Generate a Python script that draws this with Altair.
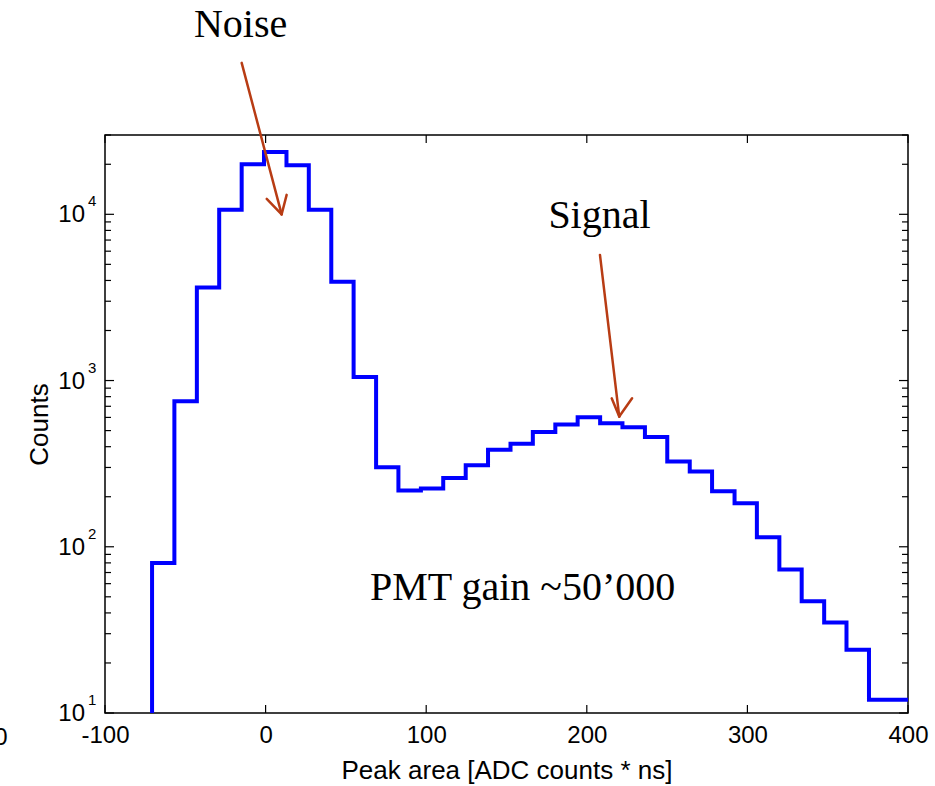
import altair as alt
import pandas as pd

# ---- data ----
bin_left = [-84.6, -70.7, -56.8, -42.8, -28.9, -14.9, -1.0, 13.0, 26.9, 40.9,
            54.8, 68.8, 82.7, 96.7, 110.6, 124.6, 138.5, 152.5, 166.4, 180.4,
            194.3, 208.3, 222.2, 236.2, 250.1, 264.1, 278.0, 292.0, 305.9, 319.9,
            333.8, 347.8, 361.7, 375.7, 389.6, 403.5]
counts = [5, 80, 750, 3630, 10640, 20000, 23700, 19700, 10640, 3930,
          1050, 301, 218, 224, 259, 309, 384, 417, 490, 544,
          602, 554, 524, 457, 326, 284, 216, 183, 114, 73,
          47, 35, 24, 12, 12, 12]

x_ticks = [-100, 0, 100, 200, 300, 400]
y_major = [10, 100, 1000, 10000]
y_exp = ["1", "2", "3", "4"]
y_minor = [20, 30, 40, 50, 60, 70, 80, 90,
           200, 300, 400, 500, 600, 700, 800, 900,
           2000, 3000, 4000, 5000, 6000, 7000, 8000, 9000,
           20000, 30000]

# annotations (data coordinates)
ann_text = ["Noise", "Signal", "PMT gain ~50\u2019000"]
ann_x = [-15.6, 207.9, 160.0]
ann_y = [116700, 8280, 48]

# arrow segments: shaft + two barbs each
arr_x = [-14.9, 10.0, 10.0, 208.2, 220.2, 220.2]
arr_y = [81500, 10000, 10000, 5700, 607, 607]
arr_x2 = [10.0, 0.7, 13.1, 220.2, 215.5, 228.2]
arr_y2 = [10000, 12390, 13090, 607, 782, 782]

W, H = 803, 578
SANS = "Liberation Sans"
SERIF = "Liberation Serif"
ARROW = "#B83C14"

xs = alt.Scale(domain=[-100, 400], nice=False, zero=False)
ys = alt.Scale(type="log", domain=[10, 30000], nice=False)

hist = pd.DataFrame({"area": bin_left, "count": counts})

line = alt.Chart(hist).mark_line(
    interpolate="step-after", color="#0000FF", strokeWidth=4, clip=True
).encode(
    x=alt.X("area:Q", scale=xs, axis=alt.Axis(
        values=x_ticks, labels=True, labelFontSize=24, labelPadding=10,
        labelFlush=False, labelOverlap=False, labelBound=False,
        labelExpr="toString(datum.value)", grid=False,
        title="Peak area [ADC counts * ns]", titleY=65)),
    y=alt.Y("count:Q", scale=ys, axis=alt.Axis(
        labels=False, grid=False, title="Counts", titleX=-58, titleY=H / 2,
        titleAngle=270, titleAlign="center")),
)

ymaj = pd.DataFrame({"v": y_major, "exp": y_exp, "base": ["10"] * 4})
ymin = pd.DataFrame({"v": y_minor})
xt = pd.DataFrame({"v": x_ticks})

def yrule(df, x0, x1):
    return alt.Chart(df).mark_rule(color="black", strokeWidth=1.2).encode(
        y=alt.Y("v:Q", scale=ys), x=alt.value(x0), x2=alt.value(x1))

def xrule(y0, y1):
    return alt.Chart(xt).mark_rule(color="black", strokeWidth=1.2).encode(
        x=alt.X("v:Q", scale=xs), y=alt.value(y0), y2=alt.value(y1))

ticks = [
    yrule(ymaj, 0, 9), yrule(ymin, 0, 6),
    yrule(ymaj, W - 9, W), yrule(ymin, W - 6, W),
    xrule(H, H - 8), xrule(0, 8),
]

ylab_base = alt.Chart(ymaj).mark_text(
    align="right", baseline="middle", font=SANS, fontSize=24, color="black", dy=1
).encode(y=alt.Y("v:Q", scale=ys), x=alt.value(-20), text="base:N")

ylab_exp = alt.Chart(ymaj).mark_text(
    align="left", baseline="middle", font=SANS, fontSize=15, color="black", dy=-13
).encode(y=alt.Y("v:Q", scale=ys), x=alt.value(-17), text="exp:N")

stray = alt.Chart(pd.DataFrame({"t": ["0"]})).mark_text(
    align="center", baseline="middle", font=SANS, fontSize=24, color="black"
).encode(x=alt.value(-104), y=alt.value(H + 25), text="t:N")

arrows = alt.Chart(pd.DataFrame({"x": arr_x, "y": arr_y, "x2": arr_x2, "y2": arr_y2})).mark_rule(
    color=ARROW, strokeWidth=2.5, clip=False, strokeCap="round"
).encode(
    x=alt.X("x:Q", scale=xs), y=alt.Y("y:Q", scale=ys),
    x2="x2:Q", y2="y2:Q")

labels = alt.Chart(pd.DataFrame({"x": ann_x, "y": ann_y, "t": ann_text})).mark_text(
    align="center", baseline="alphabetic", font=SERIF, fontSize=40, color="black", clip=False
).encode(
    x=alt.X("x:Q", scale=xs), y=alt.Y("y:Q", scale=ys), text="t:N")

chart = alt.layer(line, *ticks, ylab_base, ylab_exp, stray, arrows, labels).properties(
    width=W, height=H,
    background="white",
    autosize=alt.AutoSizeParams(type="none"),
    padding={"left": 105, "top": 135, "right": 27, "bottom": 73},
).configure_view(
    stroke="black", strokeWidth=1.5
).configure_axis(
    grid=False, ticks=False, domain=False,
    labelFont=SANS, labelFontSize=24, labelColor="black",
    titleFont=SANS, titleFontSize=26, titleFontWeight="normal", titleColor="black",
    titleBaseline="alphabetic",
)

chart.save("out.html", embed_options={"renderer": "svg", "actions": False})
